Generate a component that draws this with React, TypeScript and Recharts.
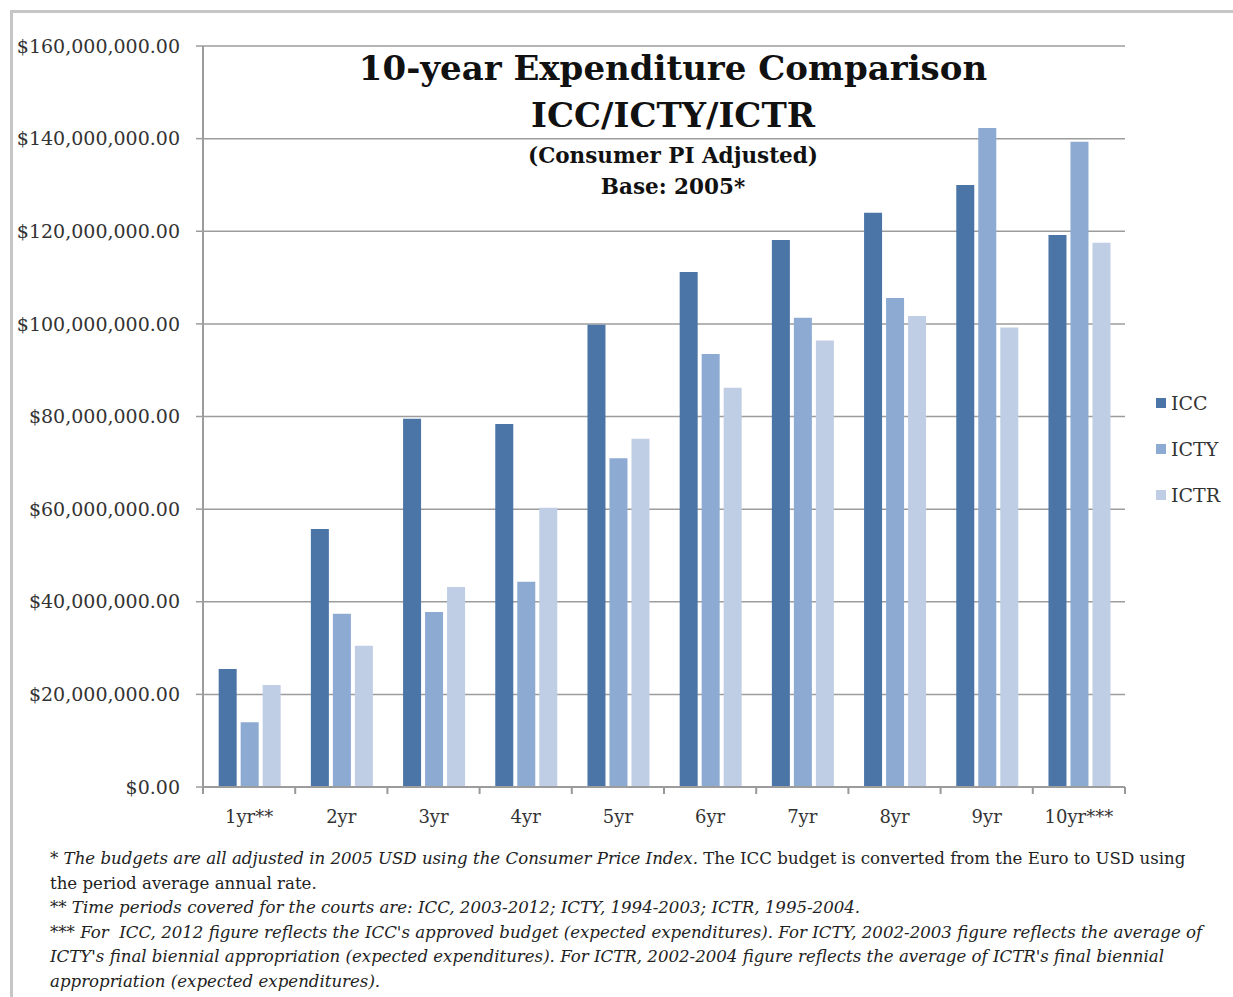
import React from 'react';
import { BarChart, Bar, XAxis, YAxis, CartesianGrid } from 'recharts';

const categories = ['1yr**', '2yr', '3yr', '4yr', '5yr', '6yr', '7yr', '8yr', '9yr', '10yr***'];
const icc = [25.5, 55.7, 79.5, 78.4, 99.8, 111.2, 118.1, 124.0, 130.0, 119.2];
const icty = [14.0, 37.4, 37.8, 44.3, 71.0, 93.5, 101.3, 105.6, 142.3, 139.3];
const ictr = [22.0, 30.5, 43.2, 60.3, 75.2, 86.2, 96.4, 101.7, 99.2, 117.5];
const yTicks = [0, 20, 40, 60, 80, 100, 120, 140, 160].map(v => v * 1000000);

const M = 1000000;
const data = categories.map((name, i) => ({
  name,
  ICC: icc[i] * M,
  ICTY: icty[i] * M,
  ICTR: ictr[i] * M,
}));

const series = [
  { key: 'ICC', color: '#4a75a6' },
  { key: 'ICTY', color: '#8caad2' },
  { key: 'ICTR', color: '#bfcee5' },
];

const SERIF = '"DejaVu Serif", serif';
const PLOT_W = 922;
const HALF_BAND = PLOT_W / categories.length / 2;

const money = (v: number) =>
  '$' + v.toLocaleString('en-US', { minimumFractionDigits: 2, maximumFractionDigits: 2 });

const XTick = (props: any) => {
  const { x, y, payload, index } = props;
  const last = index === categories.length - 1;
  return (
    <g>
      <line x1={x - HALF_BAND} x2={x - HALF_BAND} y1={y - 8} y2={y - 1} stroke="#999" strokeWidth={2} />
      {last && <line x1={x + HALF_BAND} x2={x + HALF_BAND} y1={y - 8} y2={y - 1} stroke="#999" strokeWidth={2} />}
      <text x={x} y={y + 28} textAnchor="middle" fontFamily={SERIF} fontSize={18} fill="#333">
        {payload.value}
      </text>
    </g>
  );
};

export default function App() {
  return (
    <div style={{ position: 'relative', width: 1233, height: 997, background: '#fff', overflow: 'hidden' }}>
      <style>{`body{margin:0}`}</style>
      <div
        style={{
          position: 'absolute', left: 10, top: 10, width: 1240, height: 1000,
          borderTop: '3px solid #c6c6c6', borderLeft: '3px solid #c6c6c6',
        }}
      />
      <div style={{ position: 'absolute', left: 0, top: 0 }}>
        <BarChart
          width={1233}
          height={830}
          data={data}
          margin={{ top: 46, right: 108, left: 0, bottom: 3 }}
          barCategoryGap="17%"
          barGap={4}
        >
          <CartesianGrid vertical={false} stroke="#9c9c9c" strokeWidth={1.5} />
          <XAxis
            dataKey="name"
            height={40}
            axisLine={{ stroke: '#9c9c9c', strokeWidth: 2 }}
            tickLine={false}
            tick={<XTick />}
            interval={0}
          />
          <YAxis
            width={203}
            domain={[0, 160 * M]}
            ticks={yTicks}
            tickFormatter={money}
            axisLine={{ stroke: '#9c9c9c', strokeWidth: 2 }}
            tickLine={{ stroke: '#9c9c9c', strokeWidth: 1.5 }}
            tickSize={7}
            tickMargin={16}
            tick={{ fontFamily: SERIF, fontSize: 19, fill: '#333' }}
          />
          {series.map(s => (
            <Bar key={s.key} dataKey={s.key} fill={s.color} isAnimationActive={false} />
          ))}
        </BarChart>
      </div>

      {/* title block */}
      <div
        style={{
          position: 'absolute', left: 323, top: 45, width: 700, textAlign: 'center',
          fontFamily: SERIF, fontWeight: 'bold', color: '#111',
        }}
      >
        <div style={{ fontSize: 34, lineHeight: '47px' }}>10-year Expenditure Comparison</div>
        <div style={{ fontSize: 34, lineHeight: '47px' }}>ICC/ICTY/ICTR</div>
        <div style={{ fontSize: 21.5, lineHeight: '32px', marginTop: 1 }}>(Consumer PI Adjusted)</div>
        <div style={{ fontSize: 21.5, lineHeight: '30px' }}>Base: 2005*</div>
      </div>

      {/* legend */}
      <div style={{ position: 'absolute', left: 1156, top: 380, fontFamily: SERIF, fontSize: 19, color: '#333' }}>
        {series.map(s => (
          <div key={s.key} style={{ display: 'flex', alignItems: 'center', height: 46 }}>
            <span style={{ width: 10, height: 10, background: s.color, marginRight: 5 }} />
            {s.key}
          </div>
        ))}
      </div>

      {/* footnotes */}
      <div
        style={{
          position: 'absolute', left: 50, top: 847, fontFamily: SERIF, fontSize: 16.6,
          lineHeight: '24.5px', color: '#222', whiteSpace: 'nowrap',
        }}
      >
        <div>
          <i>* The budgets are all adjusted in 2005 USD using the Consumer Price Index.</i> The ICC budget is converted from the Euro to USD using
        </div>
        <div>the period average annual rate.</div>
        <div><i>** Time periods covered for the courts are: ICC, 2003-2012; ICTY, 1994-2003; ICTR, 1995-2004.</i></div>
        <div><i>*** For&nbsp; ICC, 2012 figure reflects the ICC's approved budget (expected expenditures). For ICTY, 2002-2003 figure reflects the average of</i></div>
        <div><i>ICTY's final biennial appropriation (expected expenditures). For ICTR, 2002-2004 figure reflects the average of ICTR's final biennial</i></div>
        <div><i>appropriation (expected expenditures).</i></div>
      </div>
    </div>
  );
}
